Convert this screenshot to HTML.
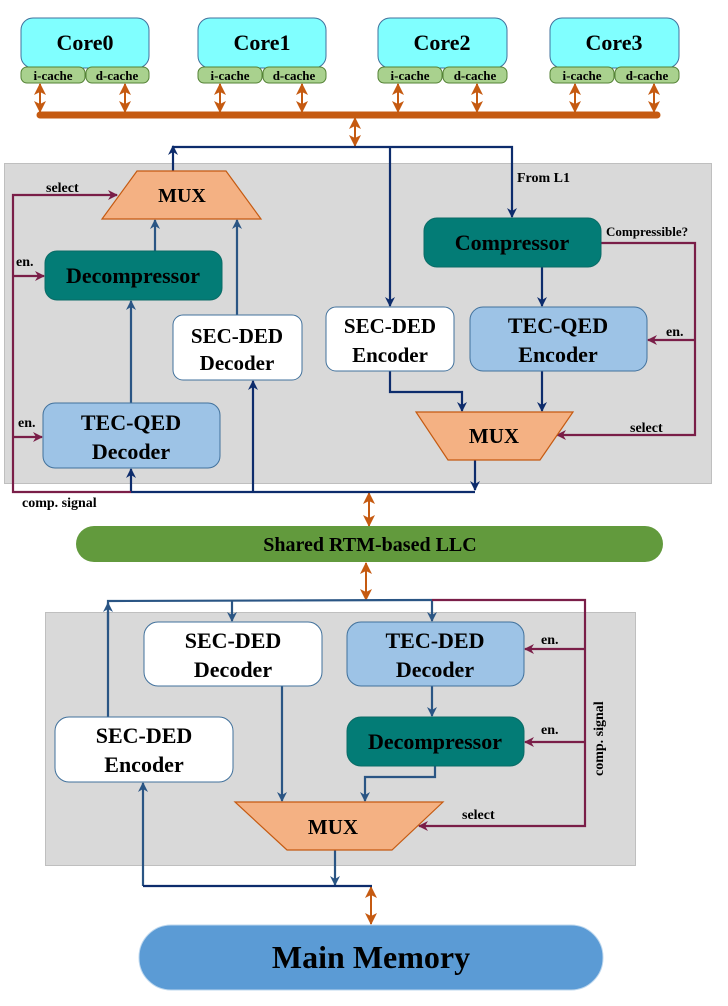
<!DOCTYPE html>
<html><head><meta charset="utf-8"><style>
html,body{margin:0;padding:0;background:#fff;}
svg{display:block;}
svg text{font-family:"Liberation Serif","Times New Roman",Times,serif !important;font-weight:bold;fill:#000;}
</style></head><body>
<svg width="728" height="1006" viewBox="0 0 728 1006" xmlns="http://www.w3.org/2000/svg" font-family="Liberation Serif, serif">
<defs>
<marker id="an" markerWidth="10" markerHeight="10" refX="9" refY="5" orient="auto" markerUnits="userSpaceOnUse"><path d="M0,0 L10,5 L0,10 L3,5 z" fill="#0D2C6C"/></marker>
<marker id="ab" markerWidth="10" markerHeight="10" refX="9" refY="5" orient="auto" markerUnits="userSpaceOnUse"><path d="M0,0 L10,5 L0,10 L3,5 z" fill="#2A5584"/></marker>
<marker id="ap" markerWidth="10" markerHeight="10" refX="9" refY="5" orient="auto" markerUnits="userSpaceOnUse"><path d="M0,0 L10,5 L0,10 L3,5 z" fill="#7A1E48"/></marker>
<marker id="ao" markerWidth="12" markerHeight="12" refX="11" refY="6" orient="auto-start-reverse" markerUnits="userSpaceOnUse"><path d="M0,0 L12,6 L0,12 L3,6 z" fill="#C55A11"/></marker>
</defs>

<rect x="4.5" y="163.5" width="707" height="320" fill="#D9D9D9" stroke="#BFBFBF"/>
<rect x="45.5" y="612.5" width="590" height="253" fill="#D9D9D9" stroke="#BFBFBF"/>

<g stroke="#41719C" stroke-width="1">
<rect x="21" y="18" width="128" height="50" rx="12" fill="#80FFFF"/>
<rect x="198" y="18" width="128" height="50" rx="12" fill="#80FFFF"/>
<rect x="378" y="18" width="129" height="50" rx="12" fill="#80FFFF"/>
<rect x="550" y="18" width="129" height="50" rx="12" fill="#80FFFF"/>
</g>
<g stroke="#548235" stroke-width="1" fill="#A9D18E">
<rect x="21" y="67" width="64" height="16" rx="6"/><rect x="86" y="67" width="63" height="16" rx="6"/>
<rect x="198" y="67" width="64" height="16" rx="6"/><rect x="263" y="67" width="63" height="16" rx="6"/>
<rect x="378" y="67" width="64" height="16" rx="6"/><rect x="443" y="67" width="64" height="16" rx="6"/>
<rect x="550" y="67" width="64" height="16" rx="6"/><rect x="615" y="67" width="64" height="16" rx="6"/>
</g>
<g font-size="22" text-anchor="middle">
<text x="85" y="50">Core0</text><text x="262" y="50">Core1</text><text x="442" y="50">Core2</text><text x="614" y="50">Core3</text>
</g>
<g font-size="13" text-anchor="middle">
<text x="53" y="80">i-cache</text><text x="117" y="80">d-cache</text>
<text x="230" y="80">i-cache</text><text x="294" y="80">d-cache</text>
<text x="410" y="80">i-cache</text><text x="475" y="80">d-cache</text>
<text x="582" y="80">i-cache</text><text x="647" y="80">d-cache</text>
</g>

<line x1="40" y1="115" x2="657" y2="115" stroke="#C55A11" stroke-width="7" stroke-linecap="round"/>
<g stroke="#C55A11" stroke-width="2" marker-start="url(#ao)" marker-end="url(#ao)">
<line x1="40" y1="84" x2="40" y2="112"/><line x1="125" y1="84" x2="125" y2="112"/>
<line x1="220" y1="84" x2="220" y2="112"/><line x1="302" y1="84" x2="302" y2="112"/>
<line x1="398" y1="84" x2="398" y2="112"/><line x1="477" y1="84" x2="477" y2="112"/>
<line x1="575" y1="84" x2="575" y2="112"/><line x1="654" y1="84" x2="654" y2="112"/>
<line x1="355" y1="118" x2="355" y2="146"/>
<line x1="369" y1="493" x2="369" y2="526"/>
<line x1="366" y1="563" x2="366" y2="600"/>
<line x1="371" y1="887" x2="371" y2="924"/>
</g>

<g stroke="#0D2C6C" stroke-width="2.2" fill="none">
<polyline points="173,147 512,147 512,217" marker-end="url(#an)"/>
<line x1="173" y1="171" x2="173" y2="146" marker-end="url(#an)"/>
<line x1="390" y1="147" x2="390" y2="306" marker-end="url(#an)"/>
<line x1="542" y1="267" x2="542" y2="306" marker-end="url(#an)"/>
<polyline points="390,371 390,392 462,392 462,411" marker-end="url(#an)"/>
<line x1="542" y1="371" x2="542" y2="411" marker-end="url(#an)"/>
<line x1="475" y1="460" x2="475" y2="490" marker-end="url(#an)"/>
<polyline points="131,492 475,492"/>
<line x1="131" y1="492" x2="131" y2="469" marker-end="url(#an)"/>
<line x1="253" y1="492" x2="253" y2="381" marker-end="url(#an)"/>
</g>
<g stroke="#2A5584" stroke-width="2.2" fill="none">
<line x1="155" y1="251" x2="155" y2="220" marker-end="url(#ab)"/>
<line x1="237" y1="315" x2="237" y2="220" marker-end="url(#ab)"/>
<line x1="131" y1="403" x2="131" y2="301" marker-end="url(#ab)"/>
</g>

<g stroke="#7A1E48" stroke-width="2.2" fill="none">
<polyline points="131,492 13,492 13,195 117,195" marker-end="url(#ap)"/>
<line x1="13" y1="276" x2="44" y2="276" marker-end="url(#ap)"/>
<line x1="13" y1="437" x2="42" y2="437" marker-end="url(#ap)"/>
<polyline points="601,243 695,243 695,435 557,435" marker-end="url(#ap)"/>
<line x1="695" y1="340" x2="648" y2="340" marker-end="url(#ap)"/>
</g>

<polygon points="137,171 226,171 261,219 102,219" fill="#F4B183" stroke="#C55A11" stroke-width="1.2"/>
<text x="182" y="202" font-size="20" text-anchor="middle">MUX</text>
<rect x="45" y="251" width="177" height="49" rx="12" fill="#037C76" stroke="#0a6b66"/>
<text x="133" y="283" font-size="22" text-anchor="middle">Decompressor</text>
<rect x="173" y="315" width="129" height="65" rx="10" fill="#fff" stroke="#41719C"/>
<text x="237" y="343" font-size="21" text-anchor="middle">SEC-DED</text>
<text x="237" y="370" font-size="21" text-anchor="middle">Decoder</text>
<rect x="43" y="403" width="177" height="65" rx="12" fill="#9DC3E6" stroke="#41719C"/>
<text x="131" y="430" font-size="22" text-anchor="middle">TEC-QED</text>
<text x="131" y="459" font-size="22" text-anchor="middle">Decoder</text>
<rect x="424" y="218" width="177" height="49" rx="13" fill="#037C76" stroke="#0a6b66"/>
<text x="512" y="250" font-size="22" text-anchor="middle">Compressor</text>
<rect x="326" y="307" width="128" height="64" rx="10" fill="#fff" stroke="#41719C"/>
<text x="390" y="333" font-size="21" text-anchor="middle">SEC-DED</text>
<text x="390" y="362" font-size="21" text-anchor="middle">Encoder</text>
<rect x="470" y="307" width="177" height="64" rx="13" fill="#9DC3E6" stroke="#41719C"/>
<text x="558" y="333" font-size="22" text-anchor="middle">TEC-QED</text>
<text x="558" y="362" font-size="22" text-anchor="middle">Encoder</text>
<polygon points="416,412 573,412 540,460 448,460" fill="#F4B183" stroke="#C55A11" stroke-width="1.2"/>
<text x="494" y="443" font-size="21" text-anchor="middle">MUX</text>

<g font-size="14">
<text x="46" y="192">select</text>
<text x="16" y="266">en.</text>
<text x="18" y="427">en.</text>
<text x="22" y="507">comp. signal</text>
<text x="517" y="182">From L1</text>
<text x="606" y="236" font-size="13">Compressible?</text>
<text x="666" y="336">en.</text>
<text x="630" y="432">select</text>
</g>

<rect x="76" y="526" width="587" height="36" rx="18" fill="#629A3D"/>
<text x="370" y="551" font-size="20" text-anchor="middle">Shared RTM-based LLC</text>

<g stroke="#2A5584" stroke-width="2.2" fill="none">
<polyline points="108,717 108,601 432,600"/>
<line x1="108" y1="630" x2="108" y2="603" marker-end="url(#ab)"/>
<line x1="232" y1="600" x2="232" y2="621" marker-end="url(#ab)"/>
<line x1="432" y1="600" x2="432" y2="621" marker-end="url(#ab)"/>
<line x1="432" y1="686" x2="432" y2="716" marker-end="url(#ab)"/>
<line x1="282" y1="686" x2="282" y2="801" marker-end="url(#ab)"/>
<polyline points="435,766 435,777 365,777 365,801" marker-end="url(#ab)"/>
<line x1="335" y1="850" x2="335" y2="885" marker-end="url(#ab)"/>
<line x1="143" y1="886" x2="143" y2="783" marker-end="url(#ab)"/>
</g>
<line x1="143" y1="886" x2="372" y2="886" stroke="#0D2C6C" stroke-width="2.2"/>
<g stroke="#7A1E48" stroke-width="2.2" fill="none">
<polyline points="432,600 585,600 585,826 419,826" marker-end="url(#ap)"/>
<line x1="585" y1="649" x2="525" y2="649" marker-end="url(#ap)"/>
<line x1="585" y1="742" x2="525" y2="742" marker-end="url(#ap)"/>
</g>

<rect x="144" y="622" width="178" height="64" rx="14" fill="#fff" stroke="#41719C"/>
<text x="233" y="648" font-size="22" text-anchor="middle">SEC-DED</text>
<text x="233" y="677" font-size="22" text-anchor="middle">Decoder</text>
<rect x="347" y="622" width="177" height="64" rx="14" fill="#9DC3E6" stroke="#41719C"/>
<text x="435" y="648" font-size="22" text-anchor="middle">TEC-DED</text>
<text x="435" y="677" font-size="22" text-anchor="middle">Decoder</text>
<rect x="347" y="717" width="177" height="49" rx="14" fill="#037C76" stroke="#0a6b66"/>
<text x="435" y="749" font-size="22" text-anchor="middle">Decompressor</text>
<rect x="55" y="717" width="178" height="65" rx="14" fill="#fff" stroke="#41719C"/>
<text x="144" y="743" font-size="22" text-anchor="middle">SEC-DED</text>
<text x="144" y="772" font-size="22" text-anchor="middle">Encoder</text>
<polygon points="235,802 443,802 392,850 287,850" fill="#F4B183" stroke="#C55A11" stroke-width="1.2"/>
<text x="333" y="834" font-size="21" text-anchor="middle">MUX</text>

<g font-size="14">
<text x="541" y="644">en.</text>
<text x="541" y="734">en.</text>
<text x="462" y="819">select</text>
<text transform="translate(603,776) rotate(-90)">comp. signal</text>
</g>

<rect x="139" y="925" width="464" height="65" rx="32" fill="#5B9BD5" stroke="#BDD7EE"/>
<text x="371" y="968" font-size="32" text-anchor="middle">Main Memory</text>
</svg>
</body></html>
